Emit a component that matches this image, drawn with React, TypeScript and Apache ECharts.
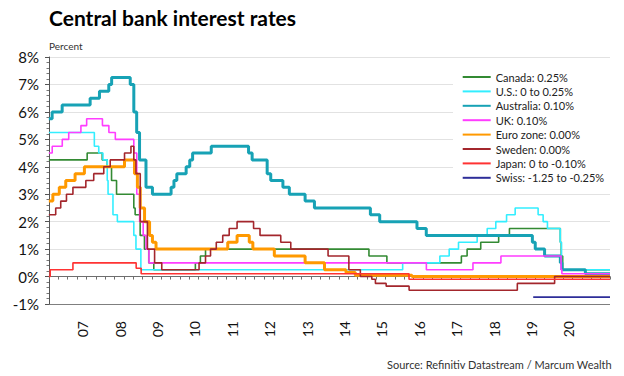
import React, { useEffect, useRef } from 'react';
import * as echarts from 'echarts';

const X_MIN = 2006.5;
const X_MAX = 2021.5;
const Y_MIN = -1;
const Y_MAX = 8;

const YEAR_LABELS = ['07', '08', '09', '10', '11', '12', '13', '14', '15', '16', '17', '18', '19', '20'];
const FIRST_LABEL_YEAR = 2007;
const LABEL_OFFSET = 0.4;

const TITLE = 'Central bank interest rates';
const UNIT = 'Percent';
const SOURCE = 'Source: Refinitiv Datastream / Marcum Wealth';

const CANADA_NAME = 'Canada: 0.25%';
const CANADA_DATES = ['2006-07-01', '2007-07-10', '2007-12-04', '2008-01-22', '2008-03-04', '2008-04-22', '2008-10-08', '2008-10-21', '2008-12-09', '2009-01-20', '2009-03-03', '2009-04-21', '2010-06-01', '2010-07-20', '2010-09-08', '2015-01-21', '2015-07-15', '2017-07-12', '2017-09-06', '2018-01-17', '2018-07-11', '2018-10-24', '2020-03-04', '2020-03-13', '2020-03-27'];
const CANADA_RATES = [4.25, 4.5, 4.25, 4.0, 3.5, 3.0, 2.5, 2.25, 1.5, 1.0, 0.5, 0.25, 0.5, 0.75, 1.0, 0.75, 0.5, 0.75, 1.0, 1.25, 1.5, 1.75, 1.25, 0.75, 0.25];

const US_NAME = 'U.S.: 0 to 0.25%';
const US_DATES = ['2006-07-01', '2007-09-18', '2007-10-31', '2007-12-11', '2008-01-22', '2008-01-30', '2008-03-18', '2008-04-30', '2008-10-08', '2008-10-29', '2008-12-16', '2015-12-16', '2016-12-14', '2017-03-15', '2017-06-14', '2017-12-13', '2018-03-21', '2018-06-13', '2018-09-26', '2018-12-19', '2019-07-31', '2019-09-18', '2019-10-30', '2020-03-03', '2020-03-15'];
const US_RATES = [5.25, 4.75, 4.5, 4.25, 3.5, 3.0, 2.25, 2.0, 1.5, 1.0, 0.25, 0.5, 0.75, 1.0, 1.25, 1.5, 1.75, 2.0, 2.25, 2.5, 2.25, 2.0, 1.75, 1.25, 0.25];

const AUS_NAME = 'Australia: 0.10%';
const AUS_DATES = ['2006-07-01', '2006-08-02', '2006-11-08', '2007-08-08', '2007-11-07', '2008-02-06', '2008-03-05', '2008-09-03', '2008-10-08', '2008-11-05', '2008-12-03', '2009-02-04', '2009-04-08', '2009-10-07', '2009-11-04', '2009-12-02', '2010-03-03', '2010-04-07', '2010-05-05', '2010-11-03', '2011-11-02', '2011-12-07', '2012-05-02', '2012-06-06', '2012-10-03', '2012-12-05', '2013-05-08', '2013-08-07', '2015-02-04', '2015-05-06', '2016-05-04', '2016-08-03', '2019-06-05', '2019-07-03', '2019-10-02', '2020-03-04', '2020-03-20', '2020-11-04'];
const AUS_RATES = [5.75, 6.0, 6.25, 6.5, 6.75, 7.0, 7.25, 7.0, 6.0, 5.25, 4.25, 3.25, 3.0, 3.25, 3.5, 3.75, 4.0, 4.25, 4.5, 4.75, 4.5, 4.25, 3.75, 3.5, 3.25, 3.0, 2.75, 2.5, 2.25, 2.0, 1.75, 1.5, 1.25, 1.0, 0.75, 0.5, 0.25, 0.1];

const UK_NAME = 'UK: 0.10%';
const UK_DATES = ['2006-07-01', '2006-08-03', '2006-11-09', '2007-01-11', '2007-05-10', '2007-07-05', '2007-12-06', '2008-02-07', '2008-04-10', '2008-10-08', '2008-11-06', '2008-12-04', '2009-01-08', '2009-02-05', '2009-03-05', '2016-08-04', '2017-11-02', '2018-08-02', '2020-03-11', '2020-03-19'];
const UK_RATES = [4.5, 4.75, 5.0, 5.25, 5.5, 5.75, 5.5, 5.25, 5.0, 4.5, 3.0, 2.0, 1.5, 1.0, 0.5, 0.25, 0.5, 0.75, 0.25, 0.1];

const EURO_NAME = 'Euro zone: 0.00%';
const EURO_DATES = ['2006-07-01', '2006-08-09', '2006-10-11', '2006-12-13', '2007-03-14', '2007-06-13', '2008-07-09', '2008-10-15', '2008-11-12', '2008-12-10', '2009-01-21', '2009-03-11', '2009-04-08', '2009-05-13', '2011-04-13', '2011-07-13', '2011-11-09', '2011-12-14', '2012-07-11', '2013-05-08', '2013-11-13', '2014-06-11', '2014-09-10', '2016-03-16'];
const EURO_RATES = [2.75, 3.0, 3.25, 3.5, 3.75, 4.0, 4.25, 3.75, 3.25, 2.5, 2.0, 1.5, 1.25, 1.0, 1.25, 1.5, 1.25, 1.0, 0.75, 0.5, 0.25, 0.15, 0.05, 0.0];

const SWEDEN_NAME = 'Sweden: 0.00%';
const SWEDEN_DATES = ['2006-07-01', '2006-09-06', '2006-10-25', '2006-12-20', '2007-02-21', '2007-06-27', '2007-09-12', '2007-12-19', '2008-02-20', '2008-07-09', '2008-09-10', '2008-10-08', '2008-10-29', '2008-12-10', '2009-02-18', '2009-04-29', '2009-07-08', '2010-07-07', '2010-09-08', '2010-10-27', '2010-12-22', '2011-02-23', '2011-04-27', '2011-07-13', '2011-12-21', '2012-02-22', '2012-09-12', '2012-12-19', '2013-12-18', '2014-07-09', '2014-10-29', '2015-02-18', '2015-03-25', '2015-07-08', '2016-02-17', '2019-01-09', '2020-01-08'];
const SWEDEN_RATES = [2.25, 2.5, 2.75, 3.0, 3.25, 3.5, 3.75, 4.0, 4.25, 4.5, 4.75, 4.25, 3.75, 2.0, 1.0, 0.5, 0.25, 0.5, 0.75, 1.0, 1.25, 1.5, 1.75, 2.0, 1.75, 1.5, 1.25, 1.0, 0.75, 0.25, 0.0, -0.1, -0.25, -0.35, -0.5, -0.25, 0.0];

const JAPAN_NAME = 'Japan: 0 to -0.10%';
const JAPAN_DATES = ['2006-07-01', '2006-07-14', '2007-02-21', '2008-10-31', '2008-12-19', '2016-02-16'];
const JAPAN_RATES = [0.0, 0.25, 0.5, 0.3, 0.1, -0.1];

const SWISS_NAME = 'Swiss: -1.25 to -0.25%';
const SWISS_DATES = ['2019-06-13'];
const SWISS_RATES = [-0.75];

const toYear = (s: string): number => {
  const [y, m, d] = s.split('-').map(Number);
  const a = Date.UTC(y, 0, 1);
  const b = Date.UTC(y + 1, 0, 1);
  return y + (Date.UTC(y, m - 1, d) - a) / (b - a);
};

const buildSteps = (dates: string[], rates: number[]) => {
  const pts: number[][] = dates.map((d, i) => [toYear(d), rates[i]]);
  pts.push([X_MAX, rates[rates.length - 1]]);
  return pts;
};

const FONT = 'Lato, "Liberation Sans", sans-serif';

export default function App() {
  const ref = useRef<HTMLDivElement>(null);

  useEffect(() => {
    if (!ref.current) return;
    const chart = echarts.init(ref.current, undefined, { renderer: 'svg' });

    const mk = (name: string, dates: string[], rates: number[], color: string, width: number) => ({
      name,
      type: 'line',
      step: 'end',
      symbol: 'none',
      data: buildSteps(dates, rates),
      itemStyle: { color },
      lineStyle: { color, width },
      emphasis: { disabled: true },
    });

    const gridColors = ['#7f7f7f', '#8a8a8a', '#e2e2e2', '#e2e2e2', '#e2e2e2', '#e2e2e2', '#e2e2e2', '#e2e2e2', '#e2e2e2', '#e2e2e2'];
    const labelValues = YEAR_LABELS.map((_, i) => FIRST_LABEL_YEAR + i + LABEL_OFFSET);

    chart.setOption({
      animation: false,
      backgroundColor: '#ffffff',
      grid: { left: 49, right: 14, top: 57, bottom: 72, containLabel: false },
      xAxis: {
        type: 'value',
        min: X_MIN,
        max: X_MAX,
        interval: 0.25,
        axisLine: { show: true, lineStyle: { color: '#6e6e6e', width: 1 } },
        axisTick: { show: true, length: 3, lineStyle: { color: '#6e6e6e' } },
        splitLine: { show: false },
        axisLabel: {
          rotate: 90,
          margin: 17,
          fontSize: 14,
          fontFamily: FONT,
          color: '#111',
          customValues: labelValues,
          formatter: (v: number) => {
            const idx = Math.floor(v) - FIRST_LABEL_YEAR;
            return idx >= 0 && idx < YEAR_LABELS.length ? YEAR_LABELS[idx] : '';
          },
        },
      },
      yAxis: {
        type: 'value',
        min: Y_MIN,
        max: Y_MAX,
        interval: 1,
        axisLine: { show: true, lineStyle: { color: '#555', width: 1 } },
        axisTick: { show: true, length: 4, lineStyle: { color: '#555' } },
        minorTick: { show: true, splitNumber: 5, length: 2.5, lineStyle: { color: '#777' } },
        splitLine: { show: true, lineStyle: { color: gridColors, width: 1 } },
        axisLabel: {
          margin: 10,
          fontSize: 15,
          fontFamily: FONT,
          color: '#111',
          formatter: (v: number) => `${v}%`,
        },
      },
      legend: {
        orient: 'vertical',
        left: 453,
        top: 66,
        padding: [4, 6, 4, 8.7],
        backgroundColor: '#ffffff',
        itemWidth: 28,
        itemHeight: 14,
        itemGap: 0.4,
        selectedMode: false,
        itemStyle: { opacity: 0 },
        textStyle: { fontSize: 11, fontFamily: FONT, color: '#222', lineHeight: 14 },
        data: [CANADA_NAME, US_NAME, AUS_NAME, UK_NAME, EURO_NAME, SWEDEN_NAME, JAPAN_NAME, SWISS_NAME],
      },
      series: [
        mk(CANADA_NAME, CANADA_DATES, CANADA_RATES, '#338a33', 1.6),
        mk(US_NAME, US_DATES, US_RATES, '#33eeff', 1.6),
        mk(AUS_NAME, AUS_DATES, AUS_RATES, '#17a2b5', 3),
        mk(UK_NAME, UK_DATES, UK_RATES, '#ff3dff', 1.6),
        mk(EURO_NAME, EURO_DATES, EURO_RATES, '#ff9900', 3),
        mk(SWEDEN_NAME, SWEDEN_DATES, SWEDEN_RATES, '#a3262c', 1.6),
        mk(JAPAN_NAME, JAPAN_DATES, JAPAN_RATES, '#ff3333', 1.6),
        mk(SWISS_NAME, SWISS_DATES, SWISS_RATES, '#2e2e99', 1.6),
      ],
      graphic: [
        {
          type: 'text',
          left: 49,
          top: 7,
          style: { text: TITLE, fontSize: 21, fontWeight: 'bold', fontFamily: FONT, fill: '#000' },
        },
        {
          type: 'text',
          left: 49,
          top: 41,
          style: { text: UNIT, fontSize: 10, fontFamily: FONT, fill: '#333' },
        },
        {
          type: 'text',
          right: 12,
          top: 359,
          style: { text: SOURCE, fontSize: 11, fontFamily: FONT, fill: '#333' },
        },
      ],
    });

    return () => chart.dispose();
  }, []);

  return <div ref={ref} style={{ position: 'absolute', left: 0, top: 0, width: 624, height: 376 }} />;
}
